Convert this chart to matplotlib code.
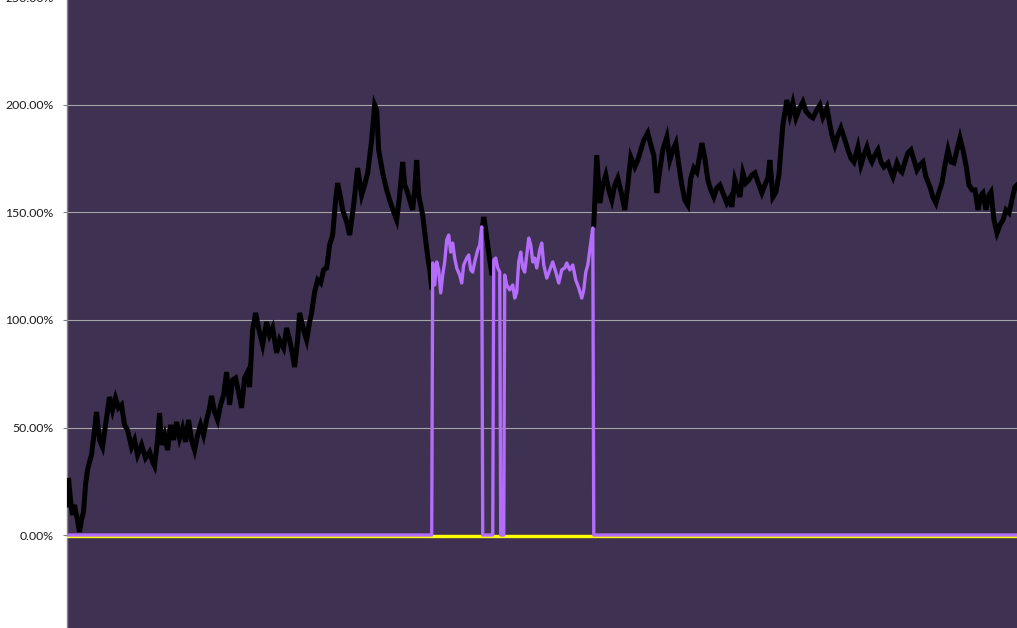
import numpy as np
import matplotlib
matplotlib.use('Agg')
import matplotlib.pyplot as plt
from matplotlib.transforms import offset_copy

# day index of each reading and value in %
black_days_1 = [0, 2, 4, 6, 8, 11, 13, 15, 17, 19, 21, 23, 25, 28, 30, 33, 36, 39, 43, 46,
                49, 52, 55, 58, 61, 65, 68, 71, 75, 79, 83, 86, 88, 91, 93, 95, 98, 101, 104, 107,
                110, 113, 116, 119, 122, 125, 128, 131, 134, 137, 140, 143, 145, 148, 151, 154, 157, 160, 163, 166,
                169, 172, 175, 178, 181, 183, 186, 189, 192, 196, 200, 203, 206, 210, 213, 217, 220, 223, 226, 228,
                231, 233, 237, 240, 243, 245, 248, 251, 254, 257, 260, 263, 266, 269, 271, 274, 276, 280, 283, 287,
                291, 295, 298, 301, 305, 308, 310, 312, 316, 320, 323, 327, 330, 333, 336, 338, 340, 343, 346, 348,
                350, 352, 354, 356, 359, 361, 363, 365]
black_vals_1 = [14.0, 26.5, 16.3, 9.3, 14.0, 7.0, 1.4, 7.0, 10.7, 23.3, 30.2, 34.0, 37.2, 48.8, 57.2, 44.2, 40.9, 51.2, 64.2, 58.1,
                63.7, 59.1, 60.5, 51.2, 48.8, 40.9, 44.2, 37.2, 41.9, 35.8, 38.6, 34.0, 32.1, 44.2, 56.7, 41.9, 46.5, 39.5, 51.2, 44.2,
                52.6, 45.1, 49.8, 43.3, 53.5, 44.2, 39.5, 46.5, 51.2, 46.5, 53.5, 59.1, 64.7, 57.2, 53.5, 60.5, 65.1, 75.8, 60.5, 72.1,
                73.0, 66.5, 59.1, 73.0, 75.8, 68.8, 95.3, 103.3, 96.3, 88.4, 99.1, 93.0, 96.3, 84.7, 90.7, 87.0, 96.3, 90.7, 83.7, 78.1,
                90.7, 103.3, 95.3, 90.7, 99.1, 103.3, 113.0, 118.6, 117.2, 123.3, 124.2, 134.9, 139.5, 155.8, 163.7, 156.7, 151.2, 145.6, 139.5, 153.5,
                170.7, 158.1, 162.8, 168.4, 183.7, 200.0, 197.7, 179.1, 168.4, 160.5, 155.8, 150.2, 146.5, 158.1, 173.5, 162.8, 160.5, 155.8, 151.2, 160.5,
                174.4, 158.1, 153.5, 148.8, 137.2, 129.3, 123.3, 115.3]

black_days_2 = [416, 417, 419, 421, 423, 425]
black_vals_2 = [144.2, 147.9, 141.9, 134.9, 127.9, 121.9]

black_days_3 = [527, 530, 533, 536, 539, 542, 545, 548, 551, 555, 558, 561, 564, 568, 571, 574, 577, 581, 584, 587,
                590, 593, 596, 600, 603, 606, 609, 612, 615, 618, 621, 624, 627, 630, 633, 635, 638, 641, 644, 647,
                650, 653, 657, 660, 663, 665, 668, 671, 673, 676, 679, 682, 685, 688, 691, 695, 698, 701, 703, 706,
                709, 712, 714, 716, 720, 723, 726, 729, 732, 736, 739, 743, 746, 750, 753, 756, 760, 763, 765, 768,
                771, 774, 778, 781, 784, 787, 791, 794, 797, 800, 803, 805, 808, 811, 814, 817, 821, 824, 826, 830,
                833, 835, 838, 841, 844, 847, 850, 853, 856, 859, 863, 866, 869, 872, 875, 878, 881, 884, 887, 890,
                893, 896, 899, 902, 905, 908, 911, 914, 916, 919, 922, 924, 927, 930, 933, 936, 939, 942, 945, 948, 950]
black_vals_3 = [144.2, 176.7, 154.4, 162.8, 167.4, 160.5, 155.8, 162.8, 166.0, 158.1, 151.2, 162.8, 175.8, 171.2, 174.4, 179.1, 183.7, 187.0, 181.4, 176.7,
                159.1, 169.8, 179.1, 185.1, 174.4, 179.1, 182.3, 172.1, 162.8, 155.8, 153.5, 166.0, 170.7, 168.8, 176.7, 182.3, 175.3, 165.1, 160.5, 157.2,
                161.4, 162.8, 158.1, 154.4, 156.7, 152.6, 165.1, 160.5, 157.2, 168.4, 163.7, 165.1, 167.4, 168.4, 164.2, 159.1, 162.8, 166.0, 174.4, 157.2,
                159.5, 167.4, 179.1, 190.7, 202.3, 195.3, 200.9, 194.0, 197.7, 201.4, 197.2, 194.9, 194.0, 197.7, 200.0, 194.4, 198.6, 190.7, 186.0, 181.4,
                186.0, 189.3, 183.7, 179.1, 175.3, 173.5, 180.5, 172.1, 176.7, 180.5, 175.3, 173.5, 176.7, 179.1, 173.5, 171.2, 173.0, 168.8, 166.5, 173.0,
                169.8, 168.8, 173.5, 177.7, 179.1, 174.4, 169.8, 172.1, 173.5, 166.5, 161.9, 157.2, 154.4, 159.5, 163.7, 172.1, 179.1, 173.5, 173.0, 179.1,
                184.7, 179.1, 172.1, 162.8, 160.5, 160.5, 151.2, 158.1, 159.1, 151.2, 158.1, 159.5, 146.5, 140.5, 144.2, 146.5, 151.2, 149.8, 155.8, 161.9, 162.8]

# purple series: zero except in three stretches
purple_days = [0, 365,
               366, 368, 370, 372, 374, 376, 378, 380, 382, 384, 386, 388, 390, 393, 395, 397, 400, 402, 404, 406, 408, 411, 413, 415,
               416, 426,
               427, 429, 431, 433,
               434, 437,
               438, 440, 443, 446, 448, 450, 452, 454, 456, 458, 460, 462, 464, 466, 468, 470, 473, 475, 477, 480,
               483, 486, 489, 492, 495, 498, 500, 503, 506, 509, 512, 515, 517, 519, 521, 523, 525, 526,
               527, 950]
purple_vals = [0, 0,
               126.5, 116.3, 127.0, 123.3, 112.6, 120.9, 127.0, 137.2, 139.5, 131.6, 135.8, 128.8, 124.2, 120.9, 117.2, 125.6, 128.8, 130.2, 123.3, 122.3, 127.0, 132.6, 134.9, 143.3,
               0, 0,
               127.9, 128.8, 124.2, 122.3,
               0, 0,
               120.9, 116.3, 114.0, 116.3, 110.2, 113.0, 127.0, 131.6, 124.2, 122.3, 130.2, 138.1, 134.9, 127.0, 128.8, 124.2, 132.6, 135.8, 125.6, 119.5,
               123.3, 127.0, 122.3, 117.2, 123.3, 124.2, 126.5, 123.3, 125.6, 118.6, 114.9, 110.2, 114.0, 122.3, 125.6, 132.6, 139.5, 142.8,
               0, 0]

yellow_days = [0, 950]
yellow_vals = [0, 0]

y_ticks = [0, 50, 100, 150, 200, 250]

black_days = black_days_1 + [np.nan] + black_days_2 + [np.nan] + black_days_3
black_vals = black_vals_1 + [np.nan] + black_vals_2 + [np.nan] + black_vals_3

fig = plt.figure(figsize=(10.17, 6.28), dpi=100)
W, H = 1017, 628
# plot area: -50% at y=642.5 px, 250% at y=-2.5 px (from top)
ax = fig.add_axes([66.5 / W, (H - 642.5) / H, (W - 66.5) / W, 645 / H])
ax.set_facecolor('#3F3151')

ax.set_xlim(0, 950)
ax.set_ylim(-50, 250)
ax.set_yticks(y_ticks)
ax.set_yticklabels([f'{v:.2f}%' for v in y_ticks], fontfamily='Lato', fontsize=8.8, color='#1a1a1a')
ax.set_xticks([])
ax.tick_params(axis='y', length=3, width=0.8, color='#808080', pad=6.5)
ax.grid(axis='y', color='#A6A6A6', linewidth=0.8)
ax.set_axisbelow(True)
for s in ['top', 'right', 'bottom']:
    ax.spines[s].set_visible(False)
ax.spines['left'].set_color('#868686')
ax.spines['left'].set_linewidth(1.0)

ax.plot(black_days, black_vals, color='black', linewidth=3.6, solid_joinstyle='miter', zorder=3)
ax.plot(yellow_days, yellow_vals, color='#FFFF00', linewidth=2.4, zorder=4,
        transform=offset_copy(ax.transData, fig=fig, x=0, y=-1.2, units='dots'))
ax.plot(purple_days, purple_vals, color='#B46CFA', linewidth=2.4, zorder=5)

fig.savefig('out.png', dpi=100)
